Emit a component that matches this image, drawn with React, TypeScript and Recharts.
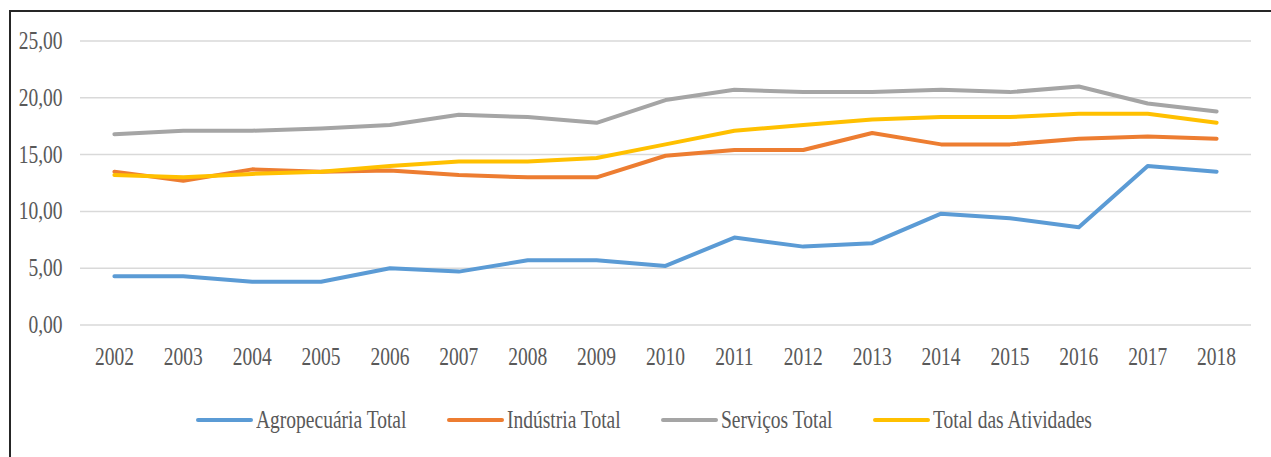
import { LineChart, Line, XAxis, YAxis, CartesianGrid } from "recharts";

const years = ["2002", "2003", "2004", "2005", "2006", "2007", "2008", "2009", "2010",
  "2011", "2012", "2013", "2014", "2015", "2016", "2017", "2018"];

const agropecuaria = [4.3, 4.3, 3.8, 3.8, 5.0, 4.7, 5.7, 5.7, 5.2, 7.7, 6.9, 7.2, 9.8, 9.4, 8.6, 14.0, 13.5];
const industria = [13.5, 12.7, 13.7, 13.5, 13.6, 13.2, 13.0, 13.0, 14.9, 15.4, 15.4, 16.9, 15.9, 15.9, 16.4, 16.6, 16.4];
const servicos = [16.8, 17.1, 17.1, 17.3, 17.6, 18.5, 18.3, 17.8, 19.8, 20.7, 20.5, 20.5, 20.7, 20.5, 21.0, 19.5, 18.8];
const totalAtividades = [13.2, 13.0, 13.3, 13.5, 14.0, 14.4, 14.4, 14.7, 15.9, 17.1, 17.6, 18.1, 18.3, 18.3, 18.6, 18.6, 17.8];

const yTicks = [0, 5, 10, 15, 20, 25];

const series = [
  { key: "agro", name: "Agropecuária Total", color: "#5B9BD5", values: agropecuaria },
  { key: "ind", name: "Indústria Total", color: "#ED7D31", values: industria },
  { key: "serv", name: "Serviços Total", color: "#A5A5A5", values: servicos },
  { key: "tot", name: "Total das Atividades", color: "#FFC000", values: totalAtividades },
];

const data = years.map((y, i) => {
  const row: Record<string, string | number> = { year: y };
  series.forEach((s) => { row[s.key] = s.values[i]; });
  return row;
});

const FONT = '"Liberation Serif", "Times New Roman", serif';
const TEXT = "#595959";
const SQUEEZE = 0.78;

function textWidth(s: string) {
  const ctx = document.createElement("canvas").getContext("2d");
  if (!ctx) return s.length * 10;
  ctx.font = `25px ${FONT}`;
  return ctx.measureText(s).width;
}

function XTick({ x, y, payload }: any) {
  return (
    <g transform={`translate(${x},${y})`}>
      <text transform={`scale(${SQUEEZE},1)`} textAnchor="middle" dy={40} fontSize={25} fontFamily={FONT} fill={TEXT}>
        {payload.value}
      </text>
    </g>
  );
}

function YTick({ x, y, payload }: any) {
  return (
    <g transform={`translate(${x - 17.5},${y})`}>
      <text transform={`scale(${SQUEEZE},1)`} textAnchor="end" dy={8} fontSize={25} fontFamily={FONT} fill={TEXT}>
        {payload.value.toFixed(2).replace(".", ",")}
      </text>
    </g>
  );
}

export default function App() {
  return (
    <div style={{ position: "absolute", left: 0, top: 0, width: 1271, height: 457, overflow: "hidden", background: "#fff" }}>
      {/* frame, runs off the right and bottom edges */}
      <div style={{ position: "absolute", left: 9, top: 10, width: 1300, height: 500, border: "2px solid #262626" }} />
      <div style={{ position: "absolute", left: 0, top: 0 }}>
        <LineChart width={1271} height={457} data={data} margin={{ top: 41, right: 20, bottom: 92, left: 0 }}>
          <CartesianGrid vertical={false} stroke="#D9D9D9" strokeWidth={1.5} />
          <XAxis dataKey="year" axisLine={false} tickLine={false} tickSize={0} tickMargin={0}
            padding={{ left: 34.4, right: 34.4 }} tick={<XTick />} interval={0} height={40} />
          <YAxis domain={[0, 25]} ticks={yTicks} axisLine={false} tickLine={false} tickSize={0} tickMargin={0}
            width={80} tick={<YTick />} />
          {series.map((s) => (
            <Line key={s.key} dataKey={s.key} name={s.name} stroke={s.color} strokeWidth={4}
              strokeLinecap="round" strokeLinejoin="round" dot={false} activeDot={false} isAnimationActive={false} />
          ))}
        </LineChart>
      </div>
      {/* legend */}
      <div style={{ position: "absolute", left: 10, width: 1269, top: 404, display: "flex", justifyContent: "center", gap: 40 }}>
        {series.map((s) => {
          const w = textWidth(s.name) * SQUEEZE;
          return (
            <div key={s.key} style={{ display: "flex", alignItems: "center", height: 32 }}>
              <span style={{ display: "inline-block", width: 57, height: 4, borderRadius: 2, background: s.color }} />
              <span style={{ display: "inline-block", width: w + 3, overflow: "visible", whiteSpace: "nowrap" }}>
                <span style={{ display: "inline-block", marginLeft: 3, transform: `scaleX(${SQUEEZE})`, transformOrigin: "left center",
                  fontFamily: FONT, fontSize: 25, color: TEXT, lineHeight: "32px" }}>
                  {s.name}
                </span>
              </span>
            </div>
          );
        })}
      </div>
    </div>
  );
}
